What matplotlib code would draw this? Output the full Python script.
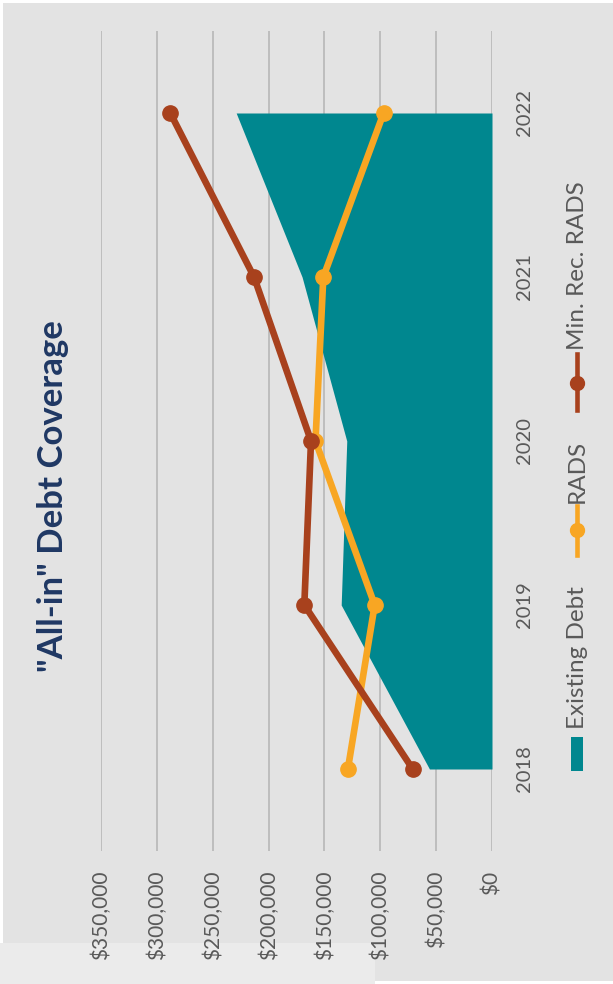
import matplotlib
matplotlib.use("Agg")
import matplotlib.pyplot as plt
from matplotlib.lines import Line2D
from matplotlib.patches import Rectangle

# data
years = [2018, 2019, 2020, 2021, 2022]
existing_debt = [56000, 135000, 130000, 170000, 229000]
rads = [129000, 105000, 158000, 151000, 97000]
min_rec_rads = [71000, 168000, 162000, 213000, 288000]
value_ticks = [0, 50000, 100000, 150000, 200000, 250000, 300000, 350000]
value_labels = ["$0", "$50,000", "$100,000", "$150,000", "$200,000",
                "$250,000", "$300,000", "$350,000"]
title = '"All-in" Debt Coverage'
legend_names = ["Existing Debt", "RADS", "Min. Rec. RADS"]

teal = "#00878F"
orange = "#F8A623"
brown = "#A8411D"
bg = "#E3E3E3"
txt = "#595959"

W, H = 613, 984
fig = plt.figure(figsize=(W / 100, H / 100), dpi=100, facecolor="white")

def fx(px):
    return px / W

def fy(py):
    return 1 - py / H

# background panels (screenshot look)
fig.patches.append(Rectangle((fx(3), fy(981)), fx(610), 978 / H, transform=fig.transFigure,
                             facecolor=bg, edgecolor="none", zorder=-2))
fig.patches.append(Rectangle((0, 0), fx(375), 41 / H, transform=fig.transFigure,
                             facecolor="#EBEBEB", edgecolor="none", zorder=-1))

# chart drawn sideways: values horizontal (reversed), years vertical
ax = fig.add_axes([fx(101), fy(851), fx(391), 820 / H])
ax.set_facecolor("none")

ax.fill_betweenx(years, 0, existing_debt, color=teal, linewidth=0, zorder=2)
ax.plot(rads, years, color=orange, lw=4.8, marker="o", ms=11, zorder=3, solid_capstyle="round")
ax.plot(min_rec_rads, years, color=brown, lw=4.8, marker="o", ms=11, zorder=4, solid_capstyle="round")

ax.set_xlim(350000, 0)
ax.set_ylim(2017.5, 2022.5)
ax.set_xticks(value_ticks)
ax.set_xticklabels(value_labels, rotation=90, va="top", ha="center",
                   fontsize=15, color=txt, family="Lato")
ax.set_yticks(years)
ax.set_yticklabels([str(y) for y in years], rotation=90, va="center",
                   fontsize=14.5, color=txt, family="Lato")
ax.yaxis.tick_right()
ax.tick_params(axis="x", length=0, pad=14)
ax.tick_params(axis="y", length=0, pad=17)
ax.grid(axis="x", color="#BDBDBD", lw=1.4, zorder=1)
ax.grid(axis="y", visible=False)
for s in ax.spines.values():
    s.set_visible(False)

# title
fig.text(fx(53), fy(496), title, rotation=90, ha="center", va="center",
         fontsize=25, fontweight="bold", color="#1F3864", family="Lato")

# hand-made sideways legend
lx = fx(577)
fig.patches.append(Rectangle((fx(571), fy(771)), fx(12), 34 / H, transform=fig.transFigure,
                             facecolor=teal, edgecolor="none"))
fig.text(lx, fy(729), legend_names[0], rotation=90, ha="center", va="bottom",
         fontsize=17.5, color=txt, family="Lato")
fig.add_artist(Line2D([lx, lx], [fy(555), fy(506)], color=orange, lw=3.3,
                      transform=fig.transFigure))
fig.add_artist(Line2D([lx], [fy(530)], color=orange, marker="o", ms=10,
                      transform=fig.transFigure))
fig.text(lx, fy(503), legend_names[1], rotation=90, ha="center", va="bottom",
         fontsize=17.5, color=txt, family="Lato")
fig.add_artist(Line2D([lx, lx], [fy(410), fy(354)], color=brown, lw=3.3,
                      transform=fig.transFigure))
fig.add_artist(Line2D([lx], [fy(383)], color=brown, marker="o", ms=10,
                      transform=fig.transFigure))
fig.text(lx, fy(350), legend_names[2], rotation=90, ha="center", va="bottom",
         fontsize=17.5, color=txt, family="Lato")

fig.savefig("out.png", dpi=100, facecolor=fig.get_facecolor())
